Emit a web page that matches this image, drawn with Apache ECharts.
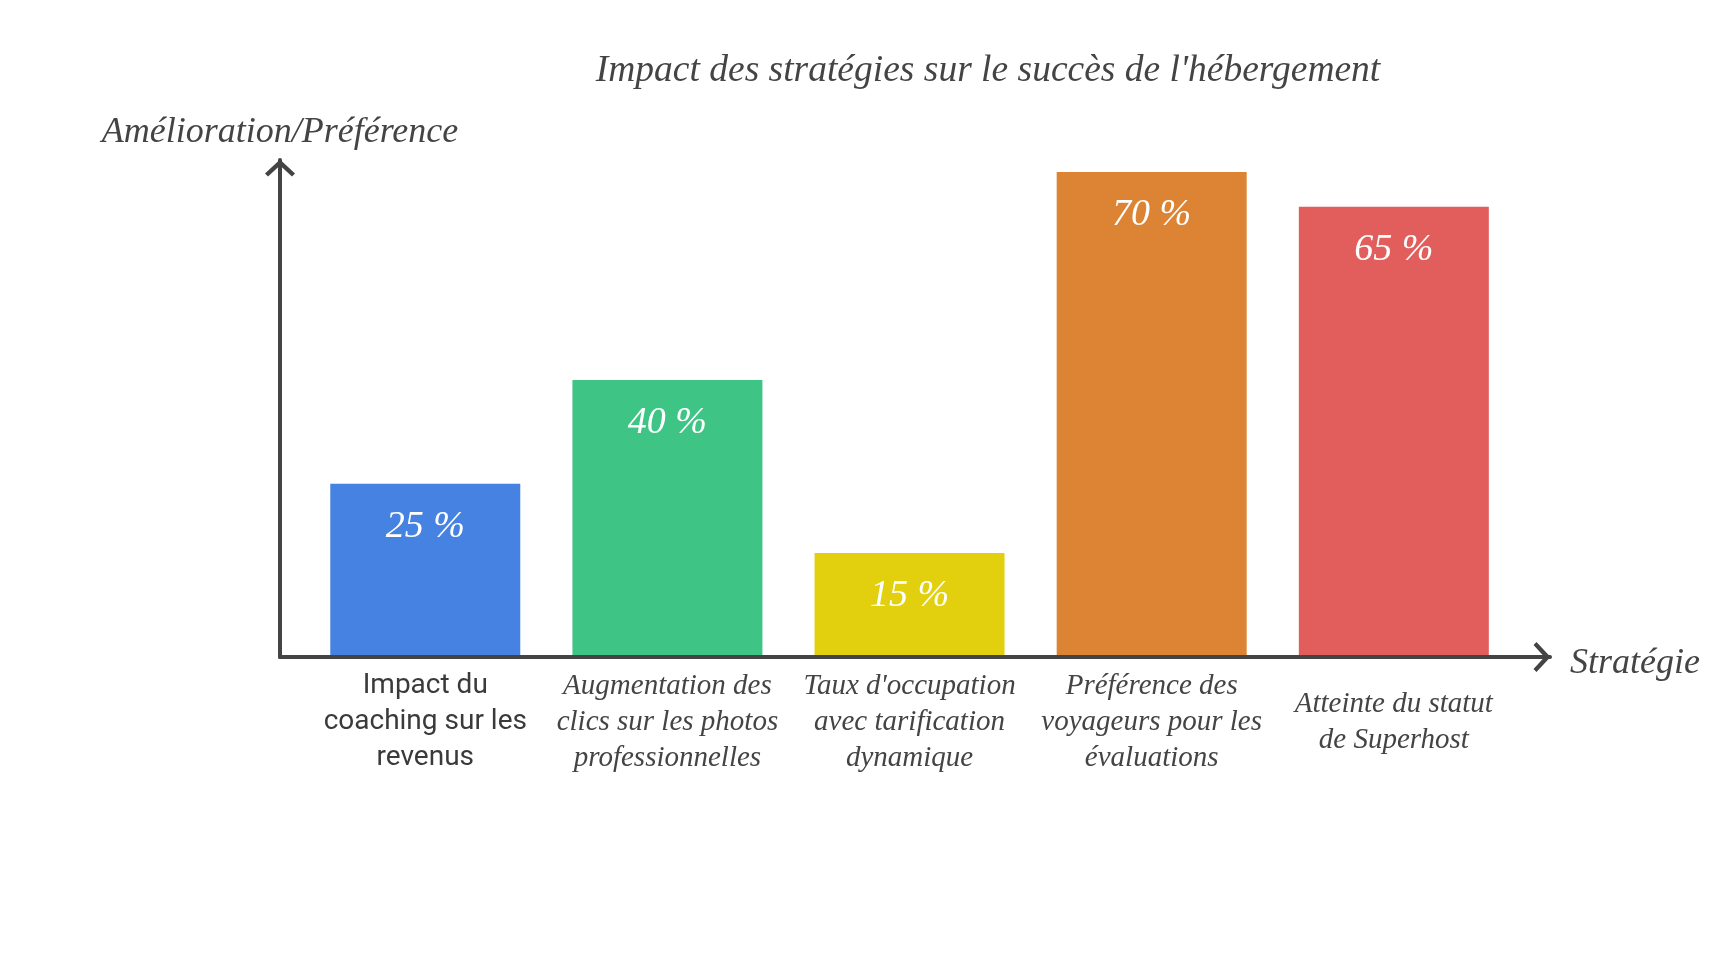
<!DOCTYPE html>
<html>
<head>
<meta charset="utf-8">
<script src="https://cdn.jsdelivr.net/npm/echarts@6/dist/echarts.min.js"></script>
<style>
html,body{margin:0;padding:0;background:#fff;}
#chart{width:1720px;height:961px;}
</style>
</head>
<body>
<div id="chart"></div>
<script>
const categories = [
  "Impact du\ncoaching sur les\nrevenus",
  "Augmentation des\nclics sur les photos\nprofessionnelles",
  "Taux d'occupation\navec tarification\ndynamique",
  "Préférence des\nvoyageurs pour les\névaluations",
  "Atteinte du statut\nde Superhost"
];
const values = [25, 40, 15, 70, 65];
const barColors = ["#4582E2", "#3EC586", "#E2CF0E", "#DD8434", "#E15E5C"];
const categoryIndex = [0, 1, 2, 3, 4];

const serif = "'Liberation Serif', 'DejaVu Serif', serif";
const textColor = "#444444";
const chevron = 'path://M0,14 L15,0 L30,14 L27,17 L15,6 L3,17 Z';

const chart = echarts.init(document.getElementById('chart'));
chart.setOption({
  backgroundColor: '#ffffff',
  animation: false,
  title: {
    text: "Impact des stratégies sur le succès de l'hébergement",
    left: 983,
    textAlign: 'center',
    top: 47,
    textStyle: { fontFamily: serif, fontStyle: 'italic', fontWeight: 'normal', fontSize: 37.5, color: textColor }
  },
  grid: { left: 280, right: 170, top: 160, bottom: 304 },
  xAxis: {
    type: 'value',
    min: -0.6,
    max: 4.645,
    z: 5,
    name: 'Stratégie',
    nameLocation: 'end',
    nameGap: 20,
    nameTextStyle: { fontFamily: serif, fontStyle: 'italic', fontSize: 36, color: textColor, verticalAlign: 'top', lineHeight: 14 },
    splitLine: { show: false },
    axisTick: { show: false },
    axisLine: {
      show: true,
      onZero: false,
      lineStyle: { color: textColor, width: 4 },
      symbol: ['none', chevron],
      symbolSize: [30, 17],
      symbolOffset: [0, -8]
    },
    axisLabel: {
      customValues: categoryIndex,
      margin: 65,
      verticalAlign: 'middle',
      lineHeight: 36,
      formatter: function (v) {
        const i = Math.round(v);
        const txt = categories[i];
        const style = i === 0 ? 'sans' : 'ital';
        return txt.split('\n').map(function (l) { return '{' + style + '|' + l + '}'; }).join('\n');
      },
      rich: {
        sans: { fontFamily: 'Roboto, sans-serif', fontSize: 28, color: '#3a3a3a', lineHeight: 36 },
        ital: { fontFamily: serif, fontStyle: 'italic', fontSize: 29, color: textColor, lineHeight: 36 }
      }
    }
  },
  yAxis: {
    type: 'value',
    min: 0,
    max: 71.75,
    z: 5,
    name: 'Amélioration/Préférence',
    nameLocation: 'end',
    nameGap: 9,
    nameTextStyle: { fontFamily: serif, fontStyle: 'italic', fontSize: 36, color: textColor, align: 'center' },
    splitLine: { show: false },
    axisTick: { show: false },
    axisLabel: { show: false },
    axisLine: {
      show: true,
      onZero: false,
      lineStyle: { color: textColor, width: 4 },
      symbol: ['none', chevron],
      symbolSize: [30, 17],
      symbolOffset: [0, -8]
    }
  },
  series: [{
    type: 'bar',
    barWidth: 190,
    z: 1,
    data: values.map(function (v, i) {
      return { value: [categoryIndex[i], v], itemStyle: { color: barColors[i] } };
    }),
    label: {
      show: true,
      position: 'insideTop',
      distance: 24,
      formatter: function (p) { return p.value[1] + ' %'; },
      fontFamily: serif,
      fontStyle: 'italic',
      fontSize: 38,
      color: '#ffffff'
    }
  }]
});
</script>
</body>
</html>
